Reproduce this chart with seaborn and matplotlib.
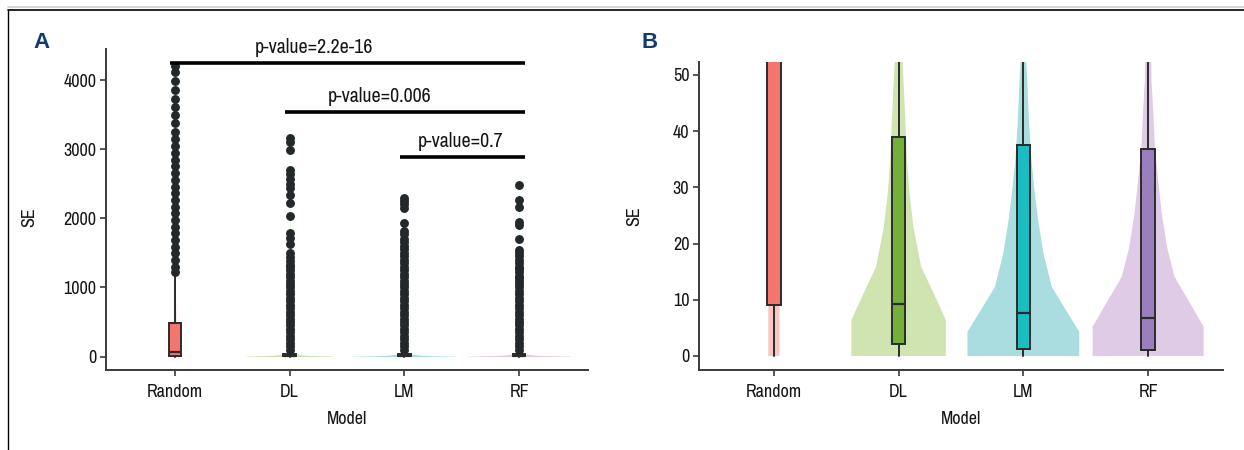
import numpy as np
import pandas as pd
import matplotlib
matplotlib.use("Agg")
import matplotlib.pyplot as plt
from matplotlib.lines import Line2D
from matplotlib import font_manager
import seaborn as sns

# ---------------- data ----------------
models = ["Random", "DL", "LM", "RF"]

# boxplot statistics (SE)
q1 = [9.0, 2.1, 1.3, 1.0]
med = [65.0, 9.3, 7.6, 6.8]
q3 = [485.0, 38.9, 37.5, 36.9]
whis_lo = [0.0, 0.0, 0.0, 0.0]
whis_hi = [1180.0, 94.0, 92.0, 91.0]

# outliers
out_random = [1230, 1300, 1400, 1500, 1590, 1690, 1790, 1880, 1980, 2080, 2170, 2270,
              2360, 2460, 2560, 2650, 2750, 2850, 2940, 3040, 3150, 3250, 3380, 3500,
              3610, 3730, 3860, 3980, 4120, 4200]
out_dl = [100, 150, 200, 250, 300, 350, 400, 450, 500, 550, 600, 650, 700, 750, 800, 850,
          900, 950, 1000, 1050, 1100, 1150, 1200, 1250, 1290, 1330, 1380, 1440, 1500, 1630,
          1710, 1790, 2040, 2220, 2340, 2440, 2490, 2570, 2640, 2700, 2990, 3100, 3160]
out_lm = [100, 150, 200, 250, 300, 350, 400, 450, 500, 550, 600, 650, 700, 750, 800, 850,
          900, 950, 1000, 1050, 1100, 1150, 1200, 1250, 1300, 1350, 1400, 1450, 1500, 1550,
          1600, 1650, 1700, 1770, 1820, 1930, 2150, 2200, 2250, 2300]
out_rf = [100, 150, 200, 250, 300, 350, 400, 450, 500, 550, 600, 650, 700, 750, 800, 850,
          900, 950, 1000, 1050, 1100, 1130, 1170, 1220, 1260, 1300, 1350, 1400, 1450, 1500,
          1540, 1700, 1910, 1950, 2160, 2270, 2480]

# violin density profiles (SE level, relative violin width)
vio_random_lv = [0, 9, 50, 200, 500, 1000, 2000, 4200]
vio_random_w = [0.09, 0.09, 0.085, 0.06, 0.02, 0.008, 0.003, 0.0]
vio_dl_lv = [0, 6.4, 11.2, 15.9, 22.9, 28.9, 34.9, 40.8, 46.7, 52.7, 100, 300, 1000, 3160]
vio_dl_w = [0.757, 0.757, 0.559, 0.361, 0.238, 0.174, 0.134, 0.112, 0.088, 0.061, 0.025, 0.008, 0.003, 0.0]
vio_lm_lv = [0, 4.3, 8.2, 12.3, 18.3, 24.3, 29.1, 35.0, 41.0, 46.9, 52.8, 100, 300, 1000, 2300]
vio_lm_w = [0.896, 0.896, 0.68, 0.455, 0.321, 0.235, 0.182, 0.128, 0.094, 0.07, 0.045, 0.02, 0.007, 0.003, 0.0]
vio_rf_lv = [0, 5.2, 9.7, 14.1, 19.4, 25.3, 31.3, 37.2, 43.1, 49.1, 100, 300, 1000, 2480]
vio_rf_w = [0.89, 0.89, 0.655, 0.422, 0.302, 0.219, 0.16, 0.107, 0.083, 0.053, 0.02, 0.007, 0.003, 0.0]

# pairwise comparisons
comp_from = ["Random", "DL", "LM"]
comp_to = ["RF", "RF", "RF"]
comp_height = [4245, 3538, 2888]
comp_label = ["p-value=2.2e-16", "p-value=0.006", "p-value=0.7"]

# ---------------- style ----------------
box_colors = ["#f4756d", "#74af3a", "#1cbdc2", "#9b7fbd"]
vio_colors = ["#f9c6c4", "#cfe4b0", "#a9dde0", "#dfcbe5"]
label_x = [1.21, 1.78, 2.49]

sns.set_theme(style="ticks")

# pick a condensed face if one is installed
cond_names = [f.name for f in font_manager.fontManager.ttflist
              if "Narrow" in f.name or "Condensed" in f.name]
if cond_names:
    main_family = [cond_names[0], "DejaVu Sans"]
    fs = 13.0
    fs_p = 14.3
else:
    main_family = ["DejaVu Sans"]
    fs = 11
    fs_p = 12
plt.rcParams["font.family"] = main_family
plt.rcParams["font.size"] = fs

out_df = pd.DataFrame({
    "Model": (["Random"] * len(out_random) + ["DL"] * len(out_dl)
              + ["LM"] * len(out_lm) + ["RF"] * len(out_rf)),
    "SE": out_random + out_dl + out_lm + out_rf,
})
profiles = [(vio_random_lv, vio_random_w), (vio_dl_lv, vio_dl_w),
            (vio_lm_lv, vio_lm_w), (vio_rf_lv, vio_rf_w)]

fig = plt.figure(figsize=(12.44, 4.5), dpi=100)
axA = fig.add_axes([106 / 1244, 80 / 450, 482 / 1244, 321 / 450])
axB = fig.add_axes([699 / 1244, 80 / 450, 524 / 1244, 308 / 450])

ink = "#2b2b2b"
txt_col = "#151515"


def draw_panel(ax):
    sns.stripplot(data=out_df, x="Model", y="SE", order=models, jitter=False,
                  color="#23282b", size=6.4, linewidth=0, ax=ax, zorder=4)
    for i, (lv, w) in enumerate(profiles):
        w = np.asarray(w)
        ax.fill_betweenx(lv, i - w / 2, i + w / 2, color=vio_colors[i], lw=0, zorder=1)
    stats = [dict(med=med[i], q1=q1[i], q3=q3[i], whislo=whis_lo[i], whishi=whis_hi[i],
                  fliers=[]) for i in range(len(models))]
    bp = ax.bxp(stats, positions=range(len(models)), widths=0.11, patch_artist=True,
                showfliers=False, showcaps=False, manage_ticks=False,
                boxprops=dict(edgecolor=ink, linewidth=1.4),
                medianprops=dict(color=ink, linewidth=1.6),
                whiskerprops=dict(color=ink, linewidth=1.4), zorder=3)
    for patch, c in zip(bp["boxes"], box_colors):
        patch.set_facecolor(c)
    ax.set_xticks(range(len(models)))
    ax.set_xticklabels(models)
    ax.set_xlim(-0.6, 3.6)
    sns.despine(ax=ax)
    for sp in ("left", "bottom"):
        ax.spines[sp].set_color("#3a3a3a")
        ax.spines[sp].set_linewidth(1.4)
    ax.tick_params(axis="both", direction="out", length=4, width=1.2, color="#3a3a3a",
                   labelsize=fs, labelcolor=txt_col, pad=3)
    ax.tick_params(axis="x", pad=6)
    ax.set_xlabel("Model", fontsize=fs, color=txt_col)
    ax.set_ylabel("SE", fontsize=fs, color=txt_col)
    ax.grid(False)


draw_panel(axA)
axA.set_ylim(-195, 4450)
axA.set_yticks([0, 1000, 2000, 3000, 4000])
for a, b, h, lab, lx in zip(comp_from, comp_to, comp_height, comp_label, label_x):
    x0, x1 = models.index(a), models.index(b)
    axA.plot([x0 - 0.04, x1 + 0.05], [h, h], color="black", lw=2.6,
             solid_capstyle="butt", clip_on=False, zorder=5)
    axA.text(lx, h + 220, lab, ha="center", va="center", fontsize=fs_p,
             color=txt_col, clip_on=False)
axA.yaxis.set_label_coords(-0.143, 0.477)
axA.xaxis.set_label_coords(0.5, -0.152)
axA.xaxis.label.set_va("center")

draw_panel(axB)
axB.set_ylim(-2.5, 52.3)
axB.set_yticks([0, 10, 20, 30, 40, 50])
axB.yaxis.set_label_coords(-0.109, 0.5)
axB.xaxis.set_label_coords(0.5, -0.158)
axB.xaxis.label.set_va("center")

# panel letters
for txt, x in (("A", 42), ("B", 650)):
    fig.text(x / 1244, 1 - 43 / 450, txt, ha="center", va="center", fontsize=16,
             fontweight="bold", color="#113a6e", family=["Liberation Sans", "DejaVu Sans"])

# page frame lines
fig.add_artist(Line2D([8 / 1244, 1], [1 - 7 / 450] * 2, transform=fig.transFigure,
                      color="#cfcfcf", lw=1.2))
fig.add_artist(Line2D([8 / 1244, 1], [1 - 10 / 450] * 2, transform=fig.transFigure,
                      color="black", lw=1.2))
fig.add_artist(Line2D([8 / 1244, 8 / 1244], [0, 1 - 10 / 450], transform=fig.transFigure,
                      color="black", lw=1.0))

fig.savefig("out.png", dpi=100)
